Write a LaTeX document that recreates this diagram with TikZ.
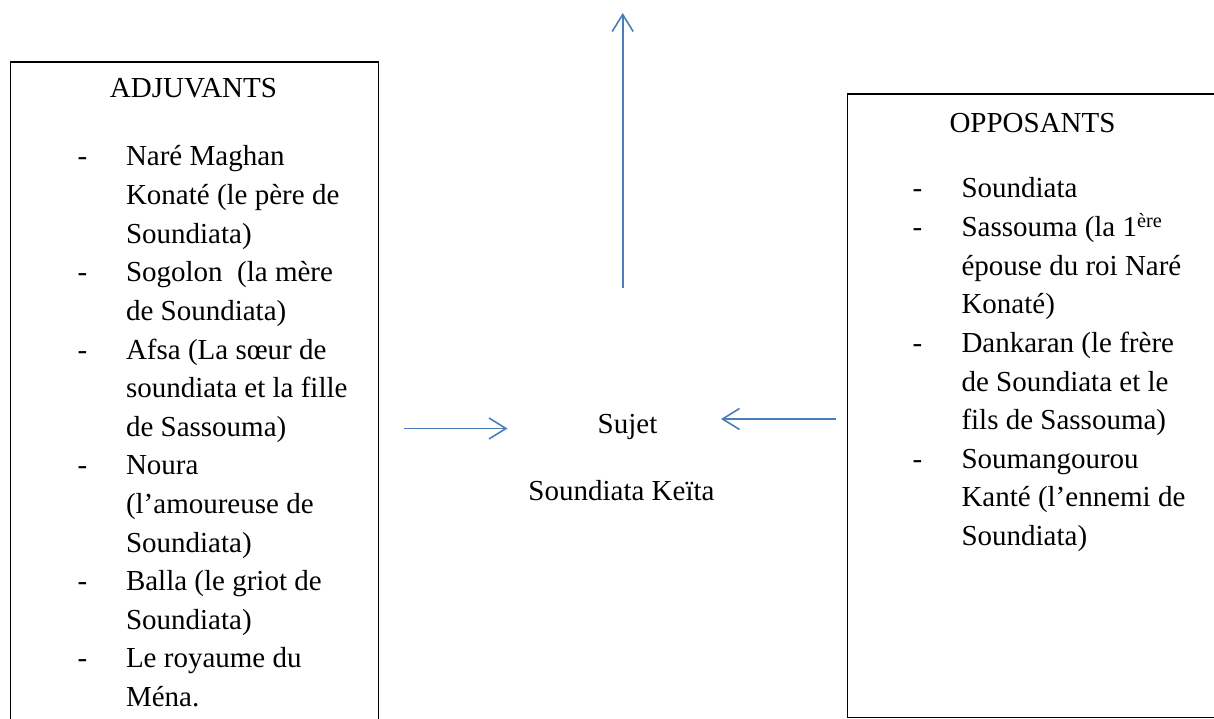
\documentclass[tikz,border=0pt]{standalone}
\usepackage{fontspec}
\setmainfont{Liberation Serif}
\usetikzlibrary{arrows.meta}
\definecolor{arrowblue}{HTML}{4A7EBB}
\begin{document}
\begin{tikzpicture}[x=1pt,y=-1pt,
  txt/.style={font=\fontsize{29}{38.6}\selectfont, inner sep=0pt, outer sep=0pt, anchor=base west},
  ctxt/.style={font=\fontsize{29}{38.6}\selectfont, inner sep=0pt, outer sep=0pt, anchor=base},
  framebox/.style={draw=black, line width=1.1pt, anchor=north west, inner sep=0pt},
  arr/.style={draw=arrowblue, line width=1.6pt, -{Straight Barb[length=17pt,width=21pt]}}]
\useasboundingbox (0,0) rectangle (1214,719);
\clip (0,0) rectangle (1214,719);
% boxes
\node[framebox, minimum width=367.5pt, minimum height=680pt] (adj) at (10,61.5) {};
\node[framebox, minimum width=390pt, minimum height=623.5pt] (opp) at (846.5,93.5) {};
% titles
\node[ctxt] (adjtitle) at (193.5,98) {ADJUVANTS};
\node[ctxt] (opptitle) at (1032.5,133) {OPPOSANTS};
% left list
\foreach \t [count=\i from 0] in {Naré Maghan, Konaté (le père de, Soundiata), Sogolon~ (la mère, de Soundiata), Afsa (La sœur de, soundiata et la fille, de Sassouma), Noura, {(l’amoureuse de}, Soundiata), Balla (le griot de, Soundiata), Le royaume du, Ména.}
  \node[txt] (l\i) at (126,{166+38.6*\i}) {\t};
\foreach \i in {0,3,5,8,11,13}
  \node[txt] (ld\i) at (77.5,{166+38.6*\i}) {-};
% right list
\foreach \t [count=\i from 0] in {Soundiata, Sassouma (la 1\textsuperscript{ère}, épouse du roi Naré, Konaté), Dankaran (le frère, de Soundiata et le, fils de Sassouma), Soumangourou, Kanté (l’ennemi de, Soundiata)}
  \node[txt] (r\i) at (961.5,{198+38.6*\i}) {\t};
\foreach \i in {0,1,4,7}
  \node[txt] (rd\i) at (912.5,{198+38.6*\i}) {-};
% subject
\node[ctxt] (sujet) at (627.5,433) {Sujet};
\node[ctxt] (keita) at (621.5,500) {Soundiata Keïta};
% arrows
\coordinate (upS) at (622.7,288);
\coordinate (upE) at (622.7,13);
\coordinate (lS) at (404,428.5);
\coordinate (lE) at (507.5,428.5);
\coordinate (rS) at (836,419);
\coordinate (rE) at (721,419);
\draw[arr] (upS) -- (upE);
\draw[arr] (lS) -- (lE);
\draw[arr] (rS) -- (rE);
\end{tikzpicture}
\end{document}
